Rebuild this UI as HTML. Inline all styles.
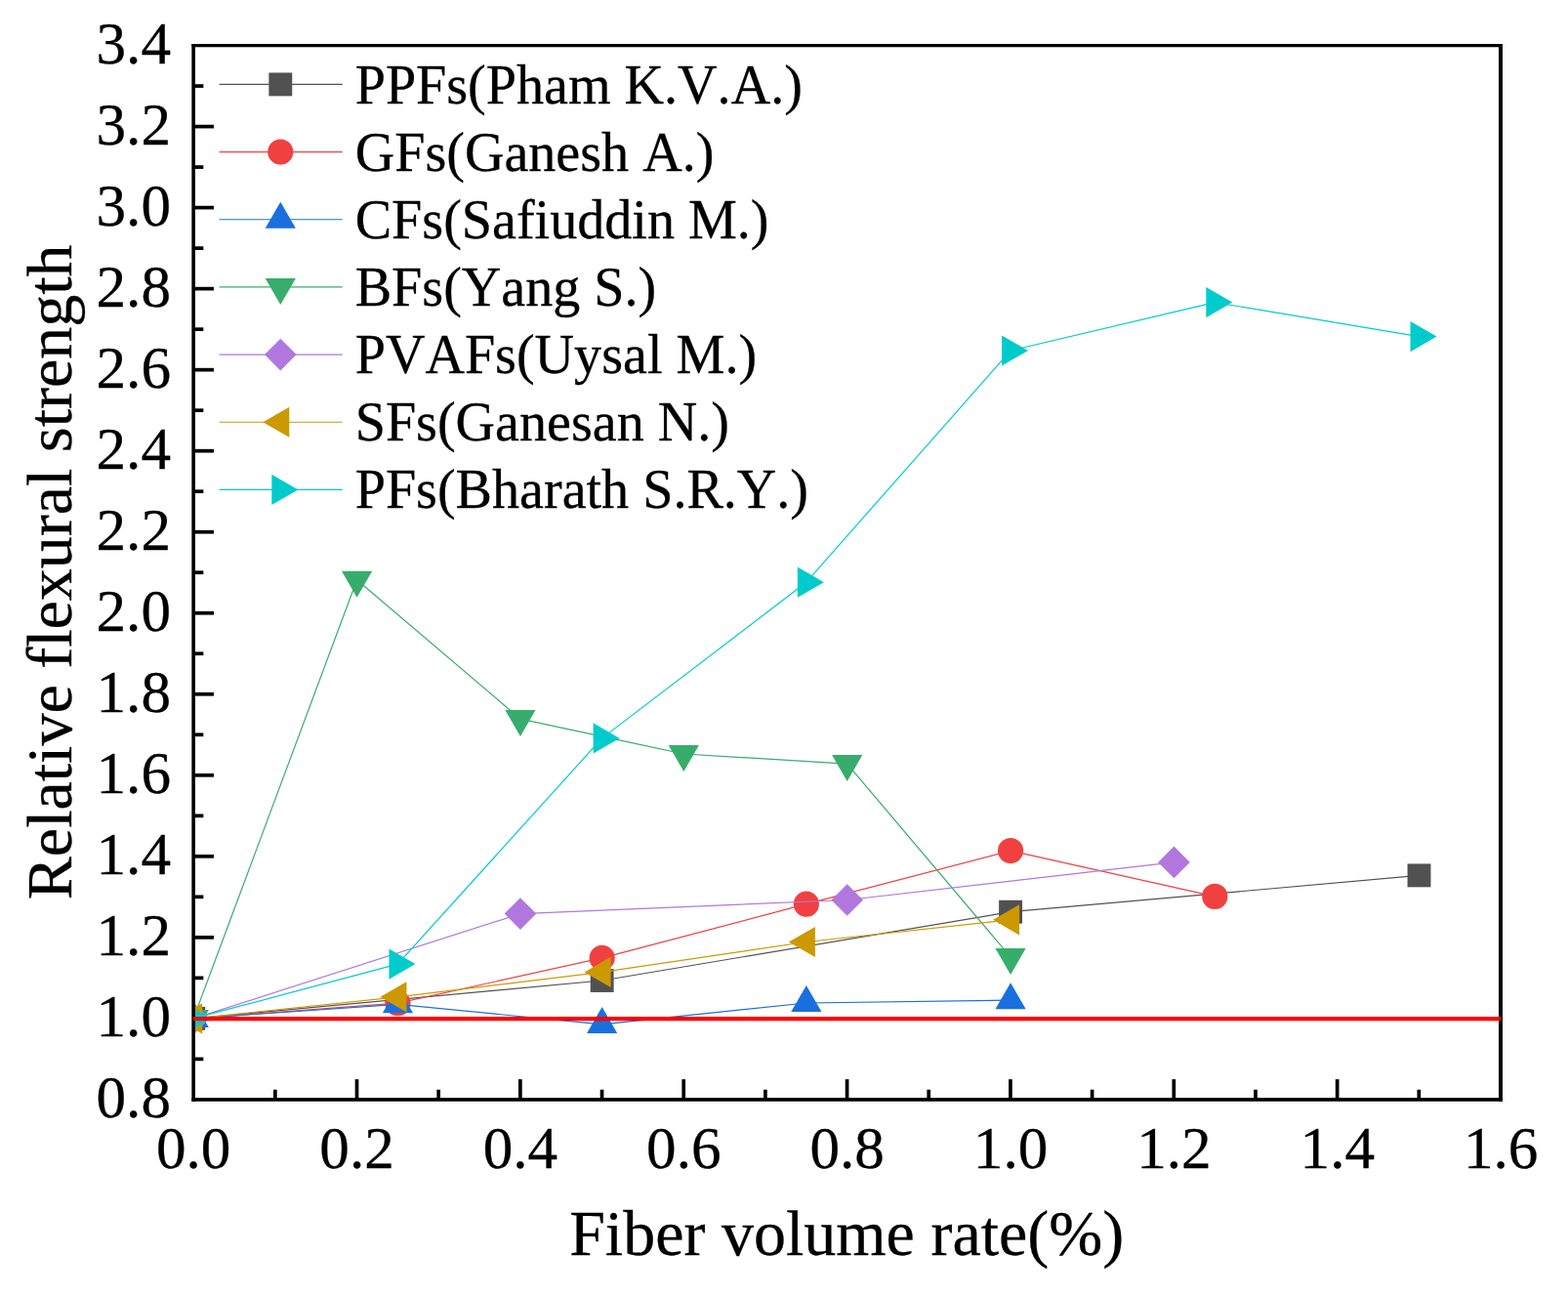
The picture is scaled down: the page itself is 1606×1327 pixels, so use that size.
<!DOCTYPE html>
<html lang="en">
<head>
<meta charset="utf-8">
<title>Relative flexural strength vs fiber volume rate</title>
<style>
html,body{margin:0;padding:0;background:#fff;}
body{width:1606px;height:1327px;overflow:hidden;}
svg{display:block;}
text{font-family:"Liberation Serif","Times New Roman",Times,serif;fill:#000;stroke:#000;stroke-width:0.3px;stroke-linejoin:round;font-kerning:none;font-variant-ligatures:none;font-feature-settings:"kern" 0,"liga" 0,"clig" 0;}
.tk{font-size:61.5px;stroke:none;}
.lg{font-size:56.1px;}
.tt{font-size:66px;}
</style>
</head>
<body>
<svg width="1606" height="1327" viewBox="0 0 1606 1327" role="img" aria-label="Relative flexural strength versus fiber volume rate">
<rect x="0" y="0" width="1606" height="1327" fill="#ffffff"/>
<defs><clipPath id="plotclip"><rect x="198.2" y="46.8" width="1339" height="1079.1"/></clipPath></defs>
<g clip-path="url(#plotclip)">
<g>
<polyline fill="none" stroke="#515151" stroke-width="1.2" stroke-linejoin="round" points="198.2,1042.89 616.64,1004 1035.08,933.7 1453.51,896.38"/>
<rect x="186.25" y="1030.94" width="23.9" height="23.9" fill="#515151"/>
<rect x="604.69" y="992.05" width="23.9" height="23.9" fill="#515151"/>
<rect x="1023.12" y="921.75" width="23.9" height="23.9" fill="#515151"/>
<rect x="1441.56" y="884.43" width="23.9" height="23.9" fill="#515151"/>
</g>
<g>
<polyline fill="none" stroke="#F14040" stroke-width="1.2" stroke-linejoin="round" points="198.2,1042.89 407.42,1027.2 616.64,980.89 825.86,925.69 1035.08,871.11 1244.29,917.88"/>
<circle cx="198.2" cy="1042.89" r="13.1" fill="#F14040"/>
<circle cx="407.42" cy="1027.2" r="13.1" fill="#F14040"/>
<circle cx="616.64" cy="980.89" r="13.1" fill="#F14040"/>
<circle cx="825.86" cy="925.69" r="13.1" fill="#F14040"/>
<circle cx="1035.08" cy="871.11" r="13.1" fill="#F14040"/>
<circle cx="1244.29" cy="917.88" r="13.1" fill="#F14040"/>
</g>
<g>
<polyline fill="none" stroke="#1A6FDF" stroke-width="1.2" stroke-linejoin="round" points="198.2,1042.89 407.42,1028.37 616.64,1048.91 825.86,1027 1035.08,1024.22"/>
<polygon points="198.2,1024.88 182.6,1051.9 213.8,1051.9" fill="#1A6FDF"/>
<polygon points="407.42,1010.35 391.82,1037.37 423.02,1037.37" fill="#1A6FDF"/>
<polygon points="616.64,1030.9 601.04,1057.92 632.24,1057.92" fill="#1A6FDF"/>
<polygon points="825.86,1008.98 810.26,1036 841.46,1036" fill="#1A6FDF"/>
<polygon points="1035.08,1006.2 1019.48,1033.22 1050.67,1033.22" fill="#1A6FDF"/>
</g>
<g>
<polyline fill="none" stroke="#37AD6B" stroke-width="1.2" stroke-linejoin="round" points="198.2,1042.89 365.57,593.7 532.95,736.1 700.32,772 867.7,782.08 1035.08,979.89"/>
<polygon points="198.2,1060.91 182.6,1033.89 213.8,1033.89" fill="#37AD6B"/>
<polygon points="365.57,611.71 349.97,584.69 381.18,584.69" fill="#37AD6B"/>
<polygon points="532.95,754.11 517.35,727.09 548.55,727.09" fill="#37AD6B"/>
<polygon points="700.32,790.01 684.72,762.99 715.92,762.99" fill="#37AD6B"/>
<polygon points="867.7,800.1 852.1,773.08 883.3,773.08" fill="#37AD6B"/>
<polygon points="1035.08,997.9 1019.48,970.88 1050.67,970.88" fill="#37AD6B"/>
</g>
<g>
<polyline fill="none" stroke="#B177DE" stroke-width="1.2" stroke-linejoin="round" points="198.2,1042.89 532.95,935.6 867.7,921.49 1202.45,882.89"/>
<polygon points="198.2,1026.59 214.5,1042.89 198.2,1059.19 181.9,1042.89" fill="#B177DE"/>
<polygon points="532.95,919.3 549.25,935.6 532.95,951.9 516.65,935.6" fill="#B177DE"/>
<polygon points="867.7,905.19 884,921.49 867.7,937.79 851.4,921.49" fill="#B177DE"/>
<polygon points="1202.45,866.59 1218.75,882.89 1202.45,899.19 1186.15,882.89" fill="#B177DE"/>
</g>
<g>
<polyline fill="none" stroke="#CC9900" stroke-width="1.2" stroke-linejoin="round" points="198.2,1042.89 407.42,1020.81 616.64,995.41 825.86,964.49 1035.08,941.79"/>
<polygon points="180.19,1042.89 207.21,1027.29 207.21,1058.49" fill="#CC9900"/>
<polygon points="389.41,1020.81 416.43,1005.21 416.43,1036.41" fill="#CC9900"/>
<polygon points="598.62,995.41 625.64,979.81 625.64,1011.01" fill="#CC9900"/>
<polygon points="807.84,964.49 834.86,948.89 834.86,980.09" fill="#CC9900"/>
<polygon points="1017.06,941.79 1044.08,926.19 1044.08,957.39" fill="#CC9900"/>
</g>
<g>
<polyline fill="none" stroke="#00CBCC" stroke-width="1.2" stroke-linejoin="round" points="198.2,1042.89 407.42,987.11 616.64,755.89 825.86,596.19 1035.08,358.99 1244.29,309.6 1453.51,344.59"/>
<polygon points="216.21,1042.89 189.19,1027.29 189.19,1058.49" fill="#00CBCC"/>
<polygon points="425.43,987.11 398.41,971.51 398.41,1002.71" fill="#00CBCC"/>
<polygon points="634.65,755.89 607.63,740.29 607.63,771.49" fill="#00CBCC"/>
<polygon points="843.87,596.19 816.85,580.59 816.85,611.79" fill="#00CBCC"/>
<polygon points="1053.09,358.99 1026.07,343.39 1026.07,374.59" fill="#00CBCC"/>
<polygon points="1262.31,309.6 1235.29,294 1235.29,325.2" fill="#00CBCC"/>
<polygon points="1471.53,344.59 1444.51,328.99 1444.51,360.19" fill="#00CBCC"/>
</g>
</g>
<g stroke="#000" stroke-width="3.7" fill="none">
<line x1="198.15" y1="1084.39" x2="208.35" y2="1084.39"/>
<line x1="198.15" y1="1042.87" x2="218.95" y2="1042.87"/>
<line x1="198.15" y1="1001.36" x2="208.35" y2="1001.36"/>
<line x1="198.15" y1="959.85" x2="218.95" y2="959.85"/>
<line x1="198.15" y1="918.33" x2="208.35" y2="918.33"/>
<line x1="198.15" y1="876.82" x2="218.95" y2="876.82"/>
<line x1="198.15" y1="835.31" x2="208.35" y2="835.31"/>
<line x1="198.15" y1="793.79" x2="218.95" y2="793.79"/>
<line x1="198.15" y1="752.28" x2="208.35" y2="752.28"/>
<line x1="198.15" y1="710.77" x2="218.95" y2="710.77"/>
<line x1="198.15" y1="669.25" x2="208.35" y2="669.25"/>
<line x1="198.15" y1="627.74" x2="218.95" y2="627.74"/>
<line x1="198.15" y1="586.22" x2="208.35" y2="586.22"/>
<line x1="198.15" y1="544.71" x2="218.95" y2="544.71"/>
<line x1="198.15" y1="503.2" x2="208.35" y2="503.2"/>
<line x1="198.15" y1="461.68" x2="218.95" y2="461.68"/>
<line x1="198.15" y1="420.17" x2="208.35" y2="420.17"/>
<line x1="198.15" y1="378.66" x2="218.95" y2="378.66"/>
<line x1="198.15" y1="337.14" x2="208.35" y2="337.14"/>
<line x1="198.15" y1="295.63" x2="218.95" y2="295.63"/>
<line x1="198.15" y1="254.12" x2="208.35" y2="254.12"/>
<line x1="198.15" y1="212.6" x2="218.95" y2="212.6"/>
<line x1="198.15" y1="171.09" x2="208.35" y2="171.09"/>
<line x1="198.15" y1="129.58" x2="218.95" y2="129.58"/>
<line x1="198.15" y1="88.06" x2="208.35" y2="88.06"/>
<line x1="281.83" y1="1125.9" x2="281.83" y2="1115.7"/>
<line x1="365.51" y1="1125.9" x2="365.51" y2="1105.1"/>
<line x1="449.18" y1="1125.9" x2="449.18" y2="1115.7"/>
<line x1="532.86" y1="1125.9" x2="532.86" y2="1105.1"/>
<line x1="616.54" y1="1125.9" x2="616.54" y2="1115.7"/>
<line x1="700.22" y1="1125.9" x2="700.22" y2="1105.1"/>
<line x1="783.9" y1="1125.9" x2="783.9" y2="1115.7"/>
<line x1="867.57" y1="1125.9" x2="867.57" y2="1105.1"/>
<line x1="951.25" y1="1125.9" x2="951.25" y2="1115.7"/>
<line x1="1034.93" y1="1125.9" x2="1034.93" y2="1105.1"/>
<line x1="1118.61" y1="1125.9" x2="1118.61" y2="1115.7"/>
<line x1="1202.29" y1="1125.9" x2="1202.29" y2="1105.1"/>
<line x1="1285.97" y1="1125.9" x2="1285.97" y2="1115.7"/>
<line x1="1369.64" y1="1125.9" x2="1369.64" y2="1105.1"/>
<line x1="1453.32" y1="1125.9" x2="1453.32" y2="1115.7"/>
</g>
<g stroke="#000" fill="none">
<line x1="196.35" y1="46.55" x2="1539" y2="46.55" stroke-width="3.3"/>
<line x1="196.35" y1="1125.9" x2="1539" y2="1125.9" stroke-width="3.7"/>
<line x1="198.15" y1="44.9" x2="198.15" y2="1127.75" stroke-width="3.6"/>
<line x1="1537" y1="44.9" x2="1537" y2="1127.75" stroke-width="4"/>
</g>
<line x1="197.7" y1="1043.19" x2="1537.2" y2="1043.19" stroke="#FF0000" stroke-width="4.2"/>
<g class="tk" text-anchor="end">
<text transform="translate(175 1144.1) scale(0.995 1.012)">0.8</text>
<text transform="translate(175 1061.09) scale(0.995 1.012)">1.0</text>
<text transform="translate(175 978.08) scale(0.995 1.012)">1.2</text>
<text transform="translate(175 895.08) scale(0.995 1.012)">1.4</text>
<text transform="translate(175 812.07) scale(0.995 1.012)">1.6</text>
<text transform="translate(175 729.06) scale(0.995 1.012)">1.8</text>
<text transform="translate(175 646.05) scale(0.995 1.012)">2.0</text>
<text transform="translate(175 563.05) scale(0.995 1.012)">2.2</text>
<text transform="translate(175 480.04) scale(0.995 1.012)">2.4</text>
<text transform="translate(175 397.03) scale(0.995 1.012)">2.6</text>
<text transform="translate(175 314.02) scale(0.995 1.012)">2.8</text>
<text transform="translate(175 231.02) scale(0.995 1.012)">3.0</text>
<text transform="translate(175 148.01) scale(0.995 1.012)">3.2</text>
<text transform="translate(175 65) scale(0.995 1.012)">3.4</text>
</g>
<g class="tk" text-anchor="middle">
<text transform="translate(198.2 1196.2) scale(0.995 1.012)">0.0</text>
<text transform="translate(365.57 1196.2) scale(0.995 1.012)">0.2</text>
<text transform="translate(532.95 1196.2) scale(0.995 1.012)">0.4</text>
<text transform="translate(700.33 1196.2) scale(0.995 1.012)">0.6</text>
<text transform="translate(867.7 1196.2) scale(0.995 1.012)">0.8</text>
<text transform="translate(1035.08 1196.2) scale(0.995 1.012)">1.0</text>
<text transform="translate(1202.45 1196.2) scale(0.995 1.012)">1.2</text>
<text transform="translate(1369.83 1196.2) scale(0.995 1.012)">1.4</text>
<text transform="translate(1537.2 1196.2) scale(0.995 1.012)">1.6</text>
</g>
<text class="tt" text-anchor="middle" x="867.2" y="1285.4">Fiber volume rate(%)</text>
<text class="tt" text-anchor="middle" transform="translate(73.4 585.8) rotate(-90)">Relative flexural strength</text>
<g>
<line x1="224.6" y1="86.4" x2="350.7" y2="86.4" stroke="#515151" stroke-width="1.2"/>
<rect x="275.35" y="74.45" width="23.9" height="23.9" fill="#515151"/>
<text class="lg" x="363.7" y="105.5">PPFs(Pham K.V.A.)</text>
<line x1="224.6" y1="155.57" x2="350.7" y2="155.57" stroke="#F14040" stroke-width="1.2"/>
<circle cx="287.3" cy="155.57" r="13.1" fill="#F14040"/>
<text class="lg" x="363.7" y="174.53">GFs(Ganesh A.)</text>
<line x1="224.6" y1="224.74" x2="350.7" y2="224.74" stroke="#1A6FDF" stroke-width="1.2"/>
<polygon points="287.3,206.73 271.7,233.75 302.9,233.75" fill="#1A6FDF"/>
<text class="lg" x="363.7" y="243.56">CFs(Safiuddin M.)</text>
<line x1="224.6" y1="293.91" x2="350.7" y2="293.91" stroke="#37AD6B" stroke-width="1.2"/>
<polygon points="287.3,311.92 271.7,284.9 302.9,284.9" fill="#37AD6B"/>
<text class="lg" x="363.7" y="312.59">BFs(Yang S.)</text>
<line x1="224.6" y1="363.08" x2="350.7" y2="363.08" stroke="#B177DE" stroke-width="1.2"/>
<polygon points="287.3,346.78 303.6,363.08 287.3,379.38 271,363.08" fill="#B177DE"/>
<text class="lg" x="363.7" y="381.62">PVAFs(Uysal M.)</text>
<line x1="224.6" y1="432.25" x2="350.7" y2="432.25" stroke="#CC9900" stroke-width="1.2"/>
<polygon points="269.29,432.25 296.31,416.65 296.31,447.85" fill="#CC9900"/>
<text class="lg" x="363.7" y="450.65">SFs(Ganesan N.)</text>
<line x1="224.6" y1="501.42" x2="350.7" y2="501.42" stroke="#00CBCC" stroke-width="1.2"/>
<polygon points="305.31,501.42 278.29,485.82 278.29,517.02" fill="#00CBCC"/>
<text class="lg" x="363.7" y="519.68">PFs(Bharath S.R.Y.)</text>
</g>
</svg>
</body>
</html>
